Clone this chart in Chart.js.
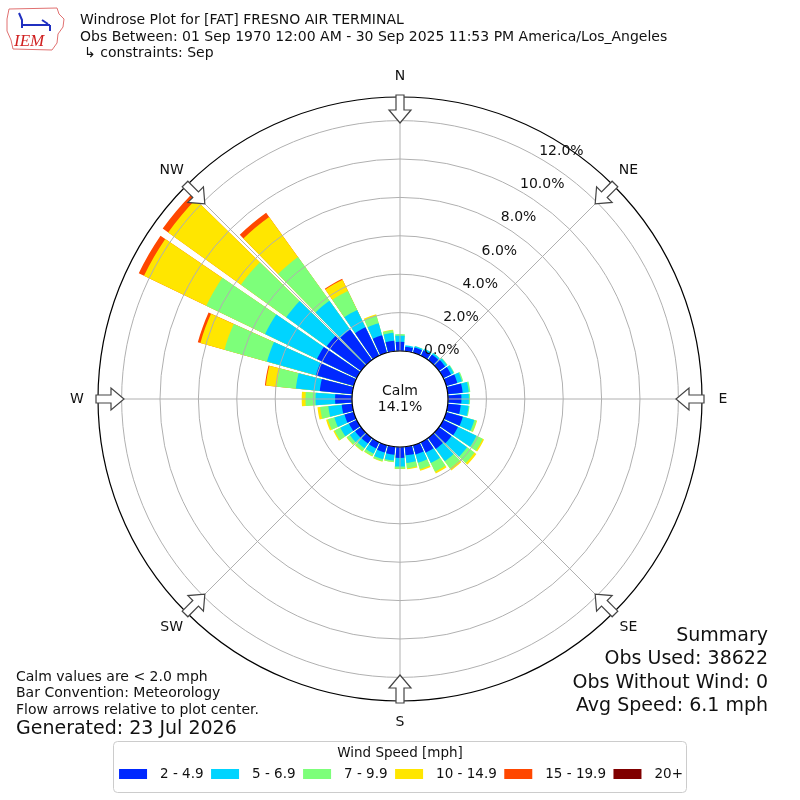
<!DOCTYPE html>
<html>
<head>
<meta charset="utf-8">
<script src="https://cdn.jsdelivr.net/npm/chart.js@4.4.1/dist/chart.umd.min.js"></script>
<style>
  body { margin: 0; background: #fff; }
</style>
</head>
<body>
<canvas id="windrose" width="800" height="800"></canvas>
<script>
// direction bins (degrees, meteorological), 10 degree wide
const directions = [0, 10, 20, 30, 40, 50, 60, 70, 80, 90, 100, 110, 120, 130, 140, 150, 160, 170,
  180, 190, 200, 210, 220, 230, 240, 250, 260, 270, 280, 290, 300, 310, 320, 330, 340, 350];

const speedBins = ['2 - 4.9', '5 - 6.9', '7 - 9.9', '10 - 14.9', '15 - 19.9', '20+'];
const speedColors = ['#0028ff', '#00d4ff', '#7dff7a', '#ffe600', '#ff4700', '#800000'];

// percent of observations per direction, per speed bin
const speed2to5 = [0.48, 0.24, 0.28, 0.32, 0.35, 0.40, 0.45, 0.60, 0.78, 0.70, 0.68, 0.90, 0.85, 0.80, 0.70, 0.60, 0.50, 0.45,
  0.57, 0.42, 0.40, 0.36, 0.36, 0.38, 0.45, 0.50, 0.55, 0.88, 1.70, 2.05, 2.30, 2.20, 1.95, 1.65, 0.95, 0.55];
const speed5to7 = [0.32, 0.07, 0.08, 0.09, 0.10, 0.12, 0.15, 0.25, 0.32, 0.39, 0.41, 0.62, 1.07, 1.00, 0.80, 0.60, 0.45, 0.40,
  0.45, 0.30, 0.36, 0.30, 0.30, 0.34, 0.50, 0.55, 0.70, 1.02, 1.25, 2.65, 3.00, 2.60, 1.85, 1.00, 0.65, 0.42];
const speed7to10 = [0.08, 0.00, 0.01, 0.01, 0.02, 0.03, 0.04, 0.07, 0.08, 0.06, 0.05, 0.12, 0.36, 0.48, 0.46, 0.50, 0.35, 0.27,
  0.11, 0.08, 0.11, 0.14, 0.17, 0.18, 0.33, 0.35, 0.43, 0.52, 1.00, 2.30, 3.40, 2.90, 2.80, 1.10, 0.42, 0.13];
const speed10to15 = [0, 0, 0, 0, 0, 0, 0, 0, 0, 0, 0, 0.03, 0.08, 0.12, 0.12, 0.10, 0.08, 0.06,
  0.02, 0.01, 0.02, 0.02, 0.03, 0.03, 0.07, 0.10, 0.14, 0.20, 0.57, 1.30, 3.60, 4.67, 2.58, 0.65, 0.07, 0.02];
const speed15to20 = [0, 0, 0, 0, 0, 0, 0, 0, 0, 0, 0, 0, 0, 0, 0, 0, 0, 0,
  0, 0, 0, 0, 0, 0, 0, 0, 0, 0, 0.05, 0.14, 0.30, 0.35, 0.27, 0.05, 0, 0];
const speed20up = [0, 0, 0, 0, 0, 0, 0, 0, 0, 0, 0, 0, 0, 0, 0, 0, 0, 0,
  0, 0, 0, 0, 0, 0, 0, 0, 0, 0, 0, 0, 0, 0, 0, 0, 0, 0];

const radialTicks = [0, 2, 4, 6, 8, 10, 12];
const compassLabels = ['N', 'NE', 'E', 'SE', 'S', 'SW', 'W', 'NW'];
const calmPercent = 14.1;

const titleLines = [
  'Windrose Plot for [FAT] FRESNO AIR TERMINAL',
  'Obs Between: 01 Sep 1970 12:00 AM - 30 Sep 2025 11:53 PM America/Los_Angeles',
  '\u21B3 constraints: Sep'
];
const noteLines = ['Calm values are < 2.0 mph', 'Bar Convention: Meteorology', 'Flow arrows relative to plot center.'];
const generatedText = 'Generated: 23 Jul 2026';
const summaryLines = ['Summary', 'Obs Used: 38622', 'Obs Without Wind: 0', 'Avg Speed: 6.1 mph'];

const BAR_DEG = 8.6;
const GAP_DEG = 1.4;
const FONT = '"DejaVu Sans", Verdana, sans-serif';

// stack the speed bins, then put a thin empty slot after every bar to get the gaps
const series = [speed2to5, speed5to7, speed7to10, speed10to15, speed15to20, speed20up];
const stacked = [];
let running = directions.map(() => 0);
series.forEach(s => {
  running = running.map((v, i) => v + s[i]);
  stacked.push(running.slice());
});

const labels = [];
directions.forEach(d => { labels.push(d + '\u00B0'); labels.push(''); });

const datasets = stacked.map((cum, k) => ({
  label: speedBins[k],
  data: cum.flatMap(v => [v, 0]),
  backgroundColor: c => {
    if (c.dataIndex % 2) return 'rgba(0,0,0,0)';
    return series[k][c.dataIndex / 2] > 0 ? speedColors[k] : 'rgba(0,0,0,0)';
  },
  borderWidth: 0,
  angle: c => (c.dataIndex % 2 ? GAP_DEG : BAR_DEG)
}));

function drawArrow(ctx, cx, cy, r0, deg) {
  const a = (deg - 90) * Math.PI / 180;
  const ux = -Math.cos(a), uy = -Math.sin(a);   // pointing to center
  const px = -uy, py = ux;
  const tx = cx + Math.cos(a) * r0, ty = cy + Math.sin(a) * r0;
  const pts = [[0, -4], [15, -4], [15, -11], [28, 0], [15, 11], [15, 4], [0, 4]];
  ctx.beginPath();
  pts.forEach(([u, v], i) => {
    const x = tx + ux * u + px * v, y = ty + uy * u + py * v;
    if (i === 0) ctx.moveTo(x, y); else ctx.lineTo(x, y);
  });
  ctx.closePath();
  ctx.fillStyle = '#ffffff';
  ctx.fill();
  ctx.strokeStyle = '#444444';
  ctx.lineWidth = 1.2;
  ctx.stroke();
}

function drawLogo(ctx) {
  ctx.save();
  ctx.strokeStyle = '#e07070';
  ctx.lineWidth = 1;
  ctx.beginPath();
  ctx.moveTo(9, 9); ctx.lineTo(57, 8); ctx.lineTo(59, 14); ctx.lineTo(64, 19); ctx.lineTo(63, 27);
  ctx.lineTo(58, 34); ctx.lineTo(57, 43); ctx.lineTo(52, 50); ctx.lineTo(13, 49); ctx.lineTo(11, 40);
  ctx.lineTo(7, 31); ctx.lineTo(7, 19); ctx.closePath();
  ctx.stroke();
  ctx.strokeStyle = '#2030c0';
  ctx.lineWidth = 2;
  ctx.beginPath();
  ctx.moveTo(19, 13); ctx.lineTo(22, 20); ctx.lineTo(22, 28);
  ctx.moveTo(22, 25); ctx.lineTo(50, 25);
  ctx.moveTo(42, 20); ctx.lineTo(48, 24);
  ctx.moveTo(50, 25); ctx.lineTo(50, 31);
  ctx.stroke();
  ctx.fillStyle = '#d02020';
  ctx.font = 'italic 17px "Liberation Serif", serif';
  ctx.textAlign = 'left';
  ctx.textBaseline = 'alphabetic';
  ctx.fillText('IEM', 14, 46);
  ctx.restore();
}

const windroseDecor = {
  id: 'windroseDecor',
  afterDraw(chart) {
    const ctx = chart.ctx;
    const scale = chart.scales.r;
    const cx = scale.xCenter, cy = scale.yCenter, R = scale.drawingArea;
    const r0 = scale.getDistanceFromCenterForValue(0);
    ctx.save();

    // spokes
    ctx.strokeStyle = '#b0b0b0';
    ctx.lineWidth = 1;
    for (let i = 0; i < 8; i++) {
      const a = (i * 45 - 90) * Math.PI / 180;
      ctx.beginPath();
      ctx.moveTo(cx, cy);
      ctx.lineTo(cx + Math.cos(a) * R, cy + Math.sin(a) * R);
      ctx.stroke();
    }

    // calm circle
    ctx.beginPath();
    ctx.arc(cx, cy, r0, 0, Math.PI * 2);
    ctx.fillStyle = '#ffffff';
    ctx.fill();
    ctx.strokeStyle = '#000000';
    ctx.lineWidth = 1.2;
    ctx.stroke();

    // outer frame
    ctx.beginPath();
    ctx.arc(cx, cy, R, 0, Math.PI * 2);
    ctx.lineWidth = 1.2;
    ctx.stroke();

    ctx.fillStyle = '#111111';
    ctx.font = '14px ' + FONT;
    ctx.textAlign = 'center';
    ctx.textBaseline = 'middle';
    ctx.fillText('Calm', cx, cy - 8);
    ctx.fillText(calmPercent.toFixed(1) + '%', cx, cy + 8);

    // radial tick labels
    ctx.textAlign = 'left';
    ctx.textBaseline = 'alphabetic';
    const la = (30 - 90) * Math.PI / 180;
    radialTicks.forEach(v => {
      const d = scale.getDistanceFromCenterForValue(v);
      ctx.fillText(v.toFixed(1) + '%', cx + Math.cos(la) * d, cy + Math.sin(la) * d - 3);
    });

    // compass arrows and labels
    compassLabels.forEach((lab, i) => {
      drawArrow(ctx, cx, cy, R + 2, i * 45);
      const a = (i * 45 - 90) * Math.PI / 180;
      ctx.fillStyle = '#111111';
      ctx.textAlign = 'center';
      ctx.textBaseline = 'middle';
      ctx.fillText(lab, cx + Math.cos(a) * 323, cy + Math.sin(a) * 323);
    });

    // header
    ctx.textAlign = 'left';
    ctx.fillText(titleLines[0], 80, 20);
    ctx.fillText(titleLines[1], 80, 37);
    ctx.fillText(titleLines[2], 84, 53);
    drawLogo(ctx);

    // notes bottom left
    ctx.fillStyle = '#111111';
    ctx.font = '14px ' + FONT;
    noteLines.forEach((t, i) => ctx.fillText(t, 16, 677 + i * 16.5));
    ctx.font = '19px ' + FONT;
    ctx.fillText(generatedText, 16, 729);

    // summary bottom right
    ctx.textAlign = 'right';
    summaryLines.forEach((t, i) => ctx.fillText(t, 768, 636 + i * 23.3));

    // legend
    ctx.beginPath();
    ctx.roundRect(113.5, 741.5, 573, 51, 4);
    ctx.fillStyle = '#ffffff';
    ctx.fill();
    ctx.strokeStyle = '#cccccc';
    ctx.lineWidth = 1;
    ctx.stroke();
    ctx.fillStyle = '#111111';
    ctx.font = '13.5px ' + FONT;
    ctx.textAlign = 'center';
    ctx.fillText('Wind Speed [mph]', 400, 753);
    const widths = speedBins.map(t => ctx.measureText(t).width);
    const total = widths.reduce((s, w) => s + 28 + 13 + w, 0) + 7.5 * (speedBins.length - 1);
    let x = 401 - total / 2;
    ctx.textAlign = 'left';
    speedBins.forEach((t, i) => {
      ctx.fillStyle = speedColors[i];
      ctx.fillRect(x, 769, 28, 10);
      ctx.fillStyle = '#111111';
      ctx.fillText(t, x + 41, 774);
      x += 41 + widths[i] + 7.5;
    });

    ctx.restore();
  }
};

new Chart(document.getElementById('windrose'), {
  type: 'polarArea',
  data: { labels: labels, datasets: datasets },
  options: {
    responsive: false,
    animation: false,
    layout: { padding: { left: 98, right: 98, top: 97, bottom: 99 } },
    plugins: {
      legend: { display: false },
      tooltip: { enabled: false }
    },
    scales: {
      r: {
        min: -2.5,
        max: 13.23,
        startAngle: -BAR_DEG / 2,
        afterBuildTicks: scale => { scale.ticks = radialTicks.map(v => ({ value: v })); },
        ticks: { display: false },
        grid: { color: '#b0b0b0', lineWidth: 1, z: 1 },
        angleLines: { display: false },
        pointLabels: { display: false }
      }
    }
  },
  plugins: [windroseDecor]
});
</script>
</body>
</html>
